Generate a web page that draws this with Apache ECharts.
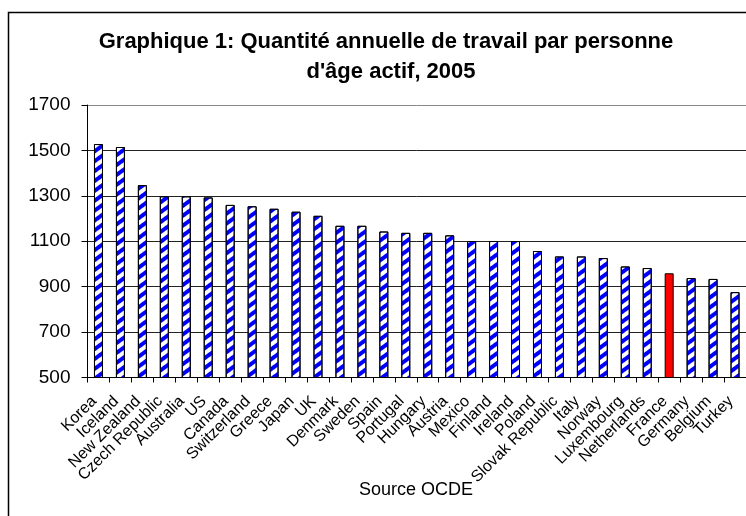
<!DOCTYPE html>
<html>
<head>
<meta charset="utf-8">
<script src="https://cdn.jsdelivr.net/npm/echarts@6/dist/echarts.min.js"></script>
<style>
  html, body { margin: 0; padding: 0; background: #fff; overflow: hidden; }
  #chart { width: 746px; height: 516px; }
</style>
</head>
<body>
<div id="chart"></div>
<script>
const countries = ['Korea','Iceland','New Zealand','Czech Republic','Australia','US','Canada','Switzerland','Greece','Japan','UK','Denmark','Sweden','Spain','Portugal','Hungary','Austria','Mexico','Finland','Ireland','Poland','Slovak Republic','Italy','Norway','Luxembourg','Netherlands','France','Germany','Belgium','Turkey'];
const hours = [1528,1515,1347,1298,1298,1293,1260,1254,1243,1230,1212,1168,1168,1143,1137,1137,1126,1101,1101,1101,1057,1033,1033,1026,989,982,959,938,934,876];
const highlight = 'France';
const yTicks = [500, 700, 900, 1100, 1300, 1500, 1700];
const titleLines = ['Graphique 1: Quantité annuelle de travail par personne', "d'âge actif, 2005"];
const sourceText = 'Source OCDE';

const FONT = 'Liberation Sans, Arial, sans-serif';
const stripedData = hours.map((v, i) => countries[i] === highlight ? '-' : v);
const redData = hours.map((v, i) => countries[i] === highlight ? v : '-');

const chart = echarts.init(document.getElementById('chart'));
chart.setOption({
  animation: false,
  backgroundColor: '#fff',
  grid: { left: 87.5, right: 0, top: 105, bottom: 138.5, containLabel: false },
  xAxis: {
    type: 'category',
    data: countries,
    axisLine: { lineStyle: { color: '#000', width: 1 } },
    axisTick: { show: true, length: 5, lineStyle: { color: '#000' } },
    axisLabel: { interval: 0, rotate: 45, fontSize: 16, color: '#000', fontFamily: FONT, margin: 17, padding: [0, 6, 0, 0] }
  },
  yAxis: {
    type: 'value',
    min: yTicks[0],
    max: yTicks[yTicks.length - 1],
    interval: yTicks[1] - yTicks[0],
    axisLine: { show: true, lineStyle: { color: '#000', width: 1 } },
    axisTick: { show: true, length: 6, lineStyle: { color: '#000' } },
    axisLabel: { fontSize: 19, color: '#000', fontFamily: FONT, margin: 17, formatter: v => String(v) },
    splitLine: { show: true, lineStyle: { color: ['#000','#222','#222','#222','#222','#222','#888'], width: 1 } }
  },
  series: [
    {
      type: 'bar',
      data: stripedData,
      barWidth: 9,
      barGap: '-100%',
      itemStyle: {
        color: '#fff',
        borderColor: '#000',
        borderWidth: 1,
        decal: {
          symbol: 'rect',
          symbolSize: 1,
          color: '#0000ff',
          dashArrayX: [1, 0],
          dashArrayY: [3.3, 3.3],
          rotation: -Math.PI / 5
        }
      }
    },
    {
      type: 'bar',
      data: redData,
      barWidth: 9,
      barGap: '-100%',
      itemStyle: { color: '#ff0000', borderColor: '#000', borderWidth: 1 }
    }
  ],
  graphic: [
    { type: 'rect', shape: { x: 8.5, y: 12.5, width: 800, height: 600 }, style: { fill: 'none', stroke: '#000', lineWidth: 1.5 }, silent: true, z: 100 },
    { type: 'text', x: 386, y: 42, style: { text: titleLines[0], align: 'center', verticalAlign: 'middle', fontSize: 22, fontWeight: 'bold', fontFamily: FONT, fill: '#000' } },
    { type: 'text', x: 391, y: 72, style: { text: titleLines[1], align: 'center', verticalAlign: 'middle', fontSize: 22, fontWeight: 'bold', fontFamily: FONT, fill: '#000' } },
    { type: 'text', x: 416, y: 490, style: { text: sourceText, align: 'center', verticalAlign: 'middle', fontSize: 18, fontFamily: FONT, fill: '#000' } }
  ]
});
</script>
</body>
</html>
